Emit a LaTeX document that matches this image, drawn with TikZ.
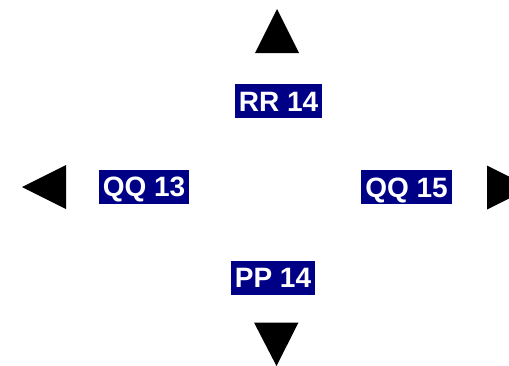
\documentclass[tikz,border=0pt]{standalone}
\usepackage{fontspec}
\setmainfont{Liberation Sans}
\definecolor{boxblue}{RGB}{0,0,135}
\begin{document}
\begin{tikzpicture}[x=1pt,y=-1pt,
  lbl/.style={fill=boxblue, text=white, font=\fontsize{28}{30}\selectfont\bfseries,
    text height=20pt, text depth=0pt, inner ysep=7pt, inner xsep=4pt},
  tri/.style={fill=black}]
\useasboundingbox (0,0) rectangle (509,365);
\clip (0,0) rectangle (509,365);
% arrows (triangles)
\coordinate (upA) at (277,9);
\fill[tri] (upA) -- (299,53) -- (255,53) -- cycle;
\coordinate (dnA) at (276.5,366);
\fill[tri] (dnA) -- (254,322.5) -- (298.5,322.5) -- cycle;
\coordinate (ltA) at (22,187);
\fill[tri] (ltA) -- (66,165) -- (66,209) -- cycle;
\coordinate (rtA) at (531,187.5);
\fill[tri] (rtA) -- (487,165.5) -- (487,209.5) -- cycle;
% labels
\node[lbl] (rr) at (278.5,101) {RR 14};
\node[lbl] (pp) at (273,277.5) {PP 14};
\node[lbl] (qq13) at (144,186.5) {QQ 13};
\node[lbl] (qq15) at (406.5,187) {QQ 15};
\end{tikzpicture}
\end{document}
